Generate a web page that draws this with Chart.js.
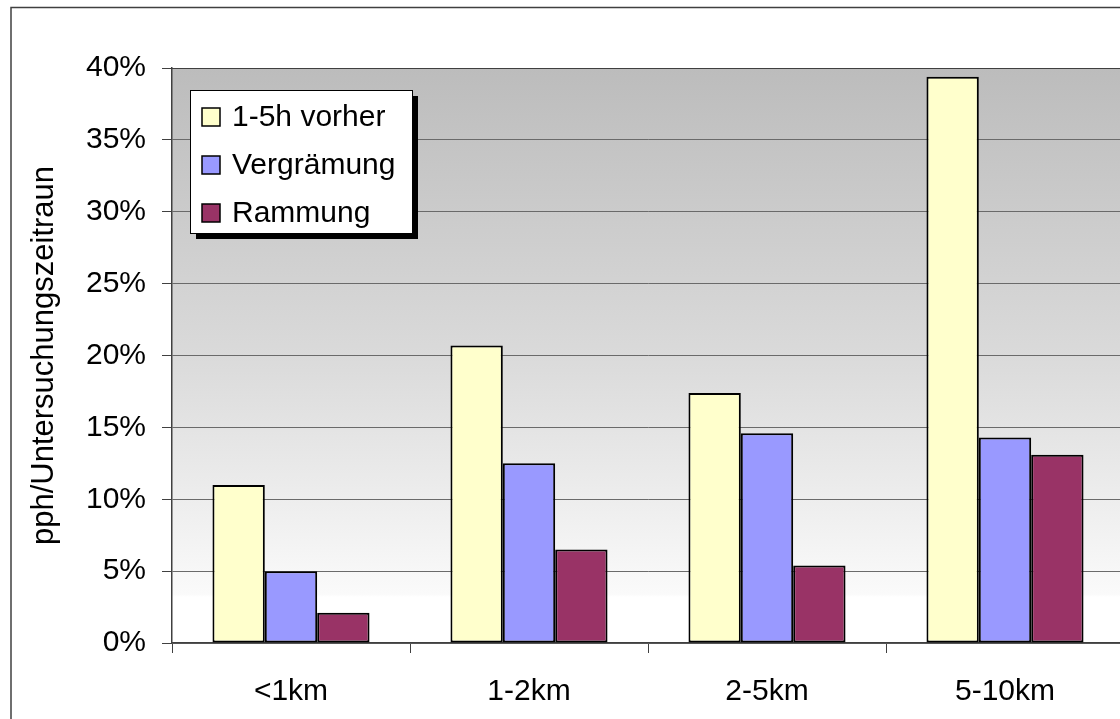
<!DOCTYPE html>
<html>
<head>
<meta charset="utf-8">
<script src="https://cdn.jsdelivr.net/npm/chart.js@4/dist/chart.umd.min.js"></script>
<style>
html,body{margin:0;padding:0;overflow:hidden;background:#fff;}
#wrap{position:absolute;left:0;top:0;width:1120px;height:719px;overflow:hidden;}
</style>
</head>
<body>
<div id="wrap"><canvas id="c" width="1140" height="719"></canvas></div>
<script>
const categories=['<1km','1-2km','2-5km','5-10km'];
const vorher=[11.0,20.7,17.4,39.4];
const vergraemung=[5.0,12.5,14.6,14.3];
const rammung=[2.1,6.5,5.4,13.1];
const seriesNames=['1-5h vorher','Vergrämung','Rammung'];
const yTicks=[0,5,10,15,20,25,30,35,40];

const font='"Liberation Sans", Arial, sans-serif';

// white page, outer frame, gradient plot background
const backdrop={
    id:'backdrop',
    beforeDraw(chart){
        const {ctx,chartArea:a}=chart;
        ctx.save();
        ctx.fillStyle='#fff';
        ctx.fillRect(0,0,chart.width,chart.height);
        const g=ctx.createLinearGradient(0,a.top,0,a.bottom);
        g.addColorStop(0,'#bcbcbc');
        g.addColorStop(0.5,'#dadada');
        g.addColorStop(0.915,'#fafafa');
        g.addColorStop(0.92,'#ffffff');
        g.addColorStop(1,'#ffffff');
        ctx.fillStyle=g;
        ctx.fillRect(a.left,a.top,a.right-a.left,a.bottom-a.top);
        ctx.restore();
    },
    afterDraw(chart){
        const {ctx,chartArea:a}=chart;
        ctx.save();
        ctx.strokeStyle='#404040';
        ctx.lineWidth=1.5;
        ctx.strokeRect(11,7.5,chart.width,chart.height);
        ctx.lineWidth=1;
        ctx.beginPath();
        ctx.moveTo(a.left,a.top+0.5);
        ctx.lineTo(a.right,a.top+0.5);
        ctx.stroke();
        ctx.restore();
    }
};

// legend box inside plot, with drop shadow
const boxLegend={
    id:'boxLegend',
    afterDraw(chart){
        const ctx=chart.ctx;
        const x=190,y=90,w=222,h=143;
        ctx.save();
        ctx.fillStyle='#000';
        ctx.fillRect(x+6,y+6,w,h);
        ctx.fillStyle='#fff';
        ctx.fillRect(x,y,w,h);
        ctx.strokeStyle='#000';
        ctx.lineWidth=1;
        ctx.strokeRect(x+0.5,y+0.5,w,h);
        ctx.font='30px '+font;
        ctx.textBaseline='middle';
        chart.data.datasets.forEach((ds,i)=>{
            const cy=y+27+i*48;
            ctx.fillStyle=ds.backgroundColor;
            ctx.fillRect(x+12,cy-9,18,18);
            ctx.strokeStyle='#000';
            ctx.lineWidth=1.5;
            ctx.strokeRect(x+12,cy-9,18,18);
            ctx.fillStyle='#000';
            ctx.fillText(ds.label,x+42,cy+1);
        });
        ctx.restore();
    }
};

new Chart(document.getElementById('c'),{
    type:'bar',
    data:{
        labels:categories,
        datasets:[
            {label:seriesNames[0],data:vorher,backgroundColor:'#ffffcc'},
            {label:seriesNames[1],data:vergraemung,backgroundColor:'#9999ff'},
            {label:seriesNames[2],data:rammung,backgroundColor:'#993366'}
        ].map(d=>Object.assign(d,{borderColor:'#000',borderWidth:2,borderSkipped:false,categoryPercentage:0.66,barPercentage:1}))
    },
    options:{
        responsive:false,
        animation:false,
        events:[],
        layout:{padding:{left:20,top:68,right:16,bottom:0}},
        plugins:{legend:{display:false},tooltip:{enabled:false}},
        scales:{
            x:{
                grid:{drawOnChartArea:false,drawTicks:true,tickLength:10,color:'#404040',offset:true},
                border:{display:true,color:'#404040',width:1.5},
                ticks:{color:'#000',font:{family:font,size:30},padding:21,maxRotation:0},
                afterFit(s){s.height=76;}
            },
            y:{
                min:0,max:40,
                afterBuildTicks(s){s.ticks=yTicks.map(v=>({value:v}));},
                grid:{color:'#6a6a6a',lineWidth:1,borderDash:[3,2],tickLength:10,tickColor:'#404040',tickBorderDash:[]},
                border:{display:true,color:'#404040',width:1.5},
                ticks:{color:'#000',font:{family:font,size:30},padding:16,callback:v=>v+'%'},
                title:{display:true,text:'pph/Untersuchungszeitraun',color:'#000',font:{family:font,size:31},padding:{top:6,bottom:0}},
                afterFit(s){s.width=152;}
            }
        }
    },
    plugins:[backdrop,boxLegend]
});
</script>
</body>
</html>
